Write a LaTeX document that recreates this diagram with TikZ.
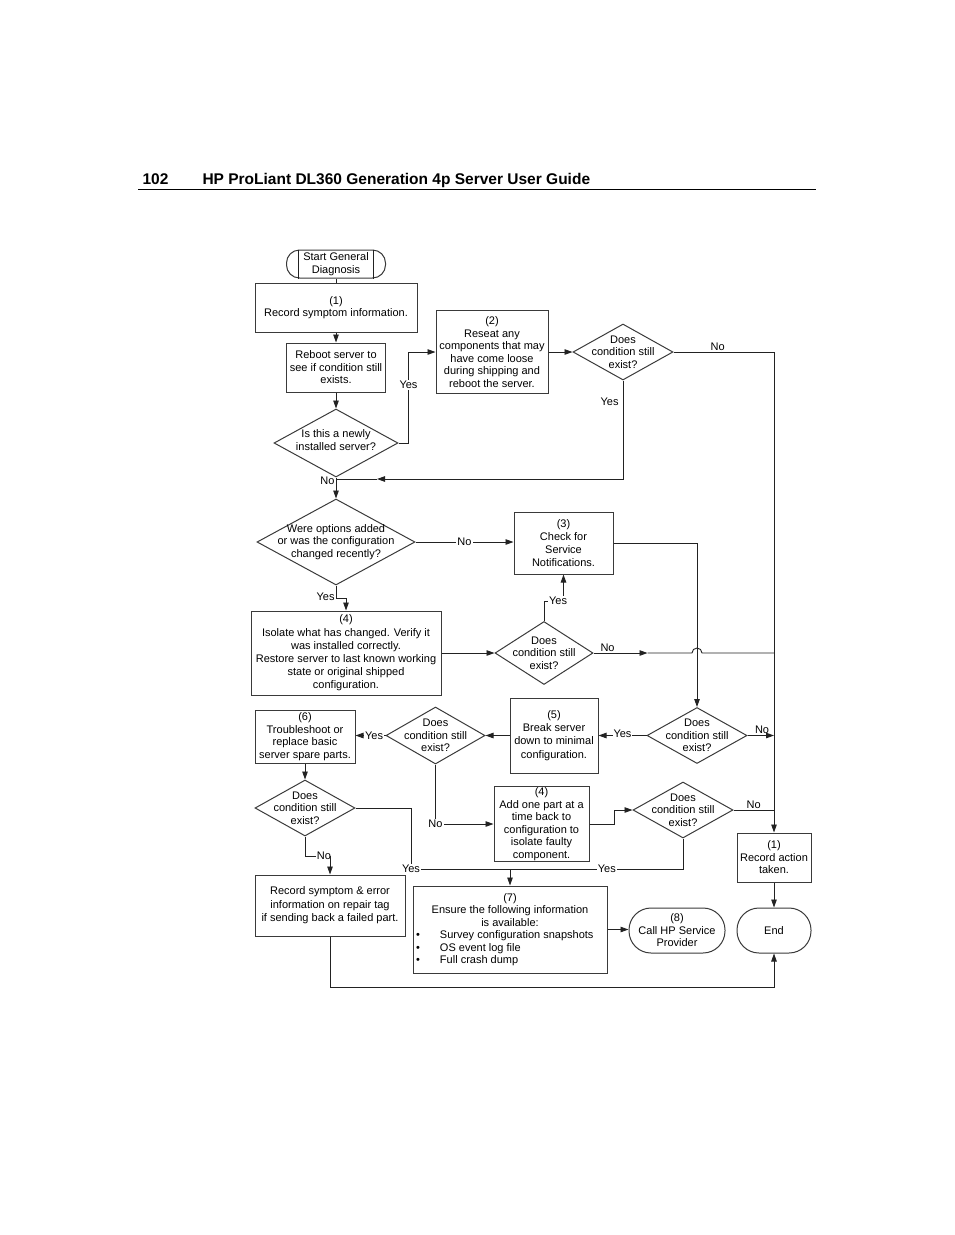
\documentclass[tikz,border=0pt]{standalone}
\usepackage{fontspec}
\setmainfont{Liberation Sans}
\usetikzlibrary{shapes.geometric,arrows.meta}
\definecolor{fcink}{HTML}{222222}
\definecolor{fcbox}{HTML}{3A3A3A}

\begin{document}
\begin{tikzpicture}[
  x=1pt,y=-1pt,
  font=\fontsize{11}{12.5}\selectfont,
  line/.style={draw=fcink,line width=.9pt},
  arr/.style={line,-{Triangle[length=8pt,width=5.5pt]}},
  box/.style={draw=fcbox,line width=1pt,align=center,inner sep=1pt},
  term/.style={box,rounded corners=13pt},
  dec/.style={diamond,draw=fcbox,line width=1pt,inner sep=0pt},
  dtext/.style={align=center,inner sep=0pt},
  lab/.style={inner sep=1pt},
  labw/.style={lab,fill=white},
  head/.style={anchor=base west,font=\bfseries\fontsize{15.5}{18}\selectfont}
]
  \node[head] (pgno) at (139,184) {102};
  \node[head] (title) at (199,184) {HP ProLiant DL360 Generation 4p Server User Guide};
  \draw[line width=.9pt] (138,189.5) -- (816,189.5);

  \node[term,minimum width=99pt,minimum height=28pt] (start) at (336,264) {Start General\\Diagnosis};
  \draw[line] ([xshift=12pt]start.north west) -- ([xshift=12pt]start.south west);
  \draw[line] ([xshift=-13pt]start.north east) -- ([xshift=-13pt]start.south east);
  \node[box,minimum width=162pt,minimum height=49pt] (rec) at (336,307.5) {(1)\\Record symptom information.};
  \node[box,minimum width=99pt,minimum height=49pt] (reboot) at (336,367.5) {Reboot server to\\see if condition still\\exists.};
  \node[dec,minimum width=124pt,minimum height=68pt,
    label={[dtext,yshift=3pt]center:{Is this a newly\\installed server?}}] (qnew) at (336,443) {};
  \node[box,minimum width=112pt,minimum height=83pt] (reseat) at (492,352) {(2)\\Reseat any\\components that may\\have come loose\\during shipping and\\reboot the server.};
  \node[dec,minimum width=158pt,minimum height=86pt,
    label={[dtext]center:{Were options added\\or was the configuration\\changed recently?}}] (qopt) at (336,542) {};
  \node[box,minimum width=99pt,minimum height=62pt,font=\fontsize{11}{13.2}\selectfont] (notif) at (563.5,543) {(3)\\Check for\\Service\\Notifications.};
  \node[box,minimum width=190pt,minimum height=84pt,font=\fontsize{11}{13.2}\selectfont] (isol) at (346,653) {(4)\\Isolate what has changed. Verify it\\was installed correctly.\\Restore server to last known working\\state or original shipped\\configuration.};
  \foreach \n/\x/\y/\w/\h in {qa/623/352/100/56,qb/544/653/98/63,qc/697/735.5/100/56,
                             qd/435.5/735.5/99/57,qe/305/808/100/56,qf/683/810/100/56}{
    \node[dec,minimum width=\w pt,minimum height=\h pt,
      label={[dtext]center:{Does\\condition still\\exist?}}] (\n) at (\x,\y) {};
  }
  \node[box,minimum width=88pt,minimum height=75pt,font=\fontsize{11}{13.2}\selectfont] (brk) at (554,735.5) {(5)\\Break server\\down to minimal\\configuration.};
  \node[box,minimum width=100pt,minimum height=53pt] (spare) at (305,736.5) {(6)\\Troubleshoot or\\replace basic\\server spare parts.};
  \node[box,minimum width=95pt,minimum height=74pt] (addp) at (541.5,824) {(4)\\Add one part at a\\time back to\\configuration to\\isolate faulty\\component.};
  \node[box,minimum width=74pt,minimum height=49pt] (taken) at (774,857.5) {(1)\\Record action\\taken.};
  \node[box,minimum width=150pt,minimum height=61pt,font=\fontsize{11}{13.5}\selectfont] (tag) at (330,905.5) {Record symptom \& error\\information on repair tag\\if sending back a failed part.};
  \node[box,minimum width=194pt,minimum height=87pt,inner sep=3pt] (ensure) at (510,929.5)
    {(7)\\Ensure the following information\\is available:\\
     \makebox[188pt][l]{\makebox[24pt][l]{\textbullet}Survey configuration snapshots}\\
     \makebox[188pt][l]{\makebox[24pt][l]{\textbullet}OS event log file}\\
     \makebox[188pt][l]{\makebox[24pt][l]{\textbullet}Full crash dump}};
  \node[term,rounded corners=22pt,minimum width=96pt,minimum height=45pt] (call) at (677,930.5) {(8)\\Call HP Service\\Provider};
  \node[term,rounded corners=22pt,minimum width=74pt,minimum height=45pt] (endn) at (774,930.5) {End};

  \coordinate (jtip) at (377,479);
  \coordinate (nk) at (330,856);
  \coordinate (yk) at (411,869);
  \coordinate (mg) at (510,869);

  \draw[line] (start.south) -- (rec.north);
  \draw[arr] (rec.south) -- (reboot.north);
  \draw[arr] (reboot.south) -- (qnew.north);
  \draw[arr] (qnew.east) -- ++(10,0) |- (reseat.west) node[labw,pos=.32]{Yes};
  \draw[arr] (reseat.east) -- (qa.west);
  \draw[arr] (qa.east) -| (taken.north) node[lab,pos=.22,above]{No};
  \draw[arr] (qa.south) |- (jtip) node[lab,pos=.11,left,xshift=-3pt]{Yes};
  \draw[line] (jtip) -- (qnew.south |- jtip);
  \draw[arr] (qnew.south) -- (qopt.north) node[lab,pos=.14,left]{No};
  \draw[arr] (qopt.east) -- (qopt.east -| notif.west) node[labw,midway]{No};
  \draw[arr] (qopt.south) -- node[lab,left,pos=.85]{Yes} ++(0,13) -| (isol.north);
  \draw[arr] (isol.east) -- (qb.west);
  \draw[arr] (qb.north) -- ++(0,-20) -| (notif.south) node[labw,pos=.36]{Yes};
  \draw[arr] (qb.east) -- node[lab,pos=.26,above]{No} ++(54,0) coordinate (qbtip);
  \draw[line] (qbtip) -- ([xshift=-5pt]qc.north |- qb.east) arc[start angle=180,end angle=0,radius=5pt] -- (qb.east -| taken.north);
  \draw[arr] (notif.east) -| (qc.north);
  \draw[arr] (qc.east) -- (qc.east -| taken.north) node[lab,pos=.55,above]{No};
  \draw[arr] (qc.west) -- (brk.east) node[labw,midway,yshift=2pt]{Yes};
  \draw[arr] (brk.west) -- (qd.east);
  \draw[arr] (qd.west) -- (qd.west -| spare.east) node[labw,pos=.38]{Yes};
  \draw[arr] (spare.south) -- (qe.north);
  \draw[line] (qe.south) |- (nk) node[labw,pos=.88]{No};
  \draw[arr] (nk) -- (tag.north);
  \draw[line] (qe.east) -| (yk) node[labw]{Yes} -- (mg);
  \draw[line] (qf.south) |- (mg) node[labw,pos=.72]{Yes};
  \draw[arr] (mg) -- (ensure.north);
  \draw[arr] (qd.south) |- (addp.west) node[labw,pos=.5]{No};
  \draw[arr] (addp.east) -- ++(25,0) |- (qf.west);
  \draw[line] (qf.east) -- (qf.east -| taken.north) node[lab,midway,above]{No};
  \draw[arr] (ensure.east) -- (ensure.east -| call.west);
  \draw[arr] (taken.south) -- (endn.north);
  \draw[arr] (tag.south) -- ++(0,51) -| (endn.south);
  \path[use as bounding box] (0,0) rectangle (954,1235);
\end{tikzpicture}
\end{document}
